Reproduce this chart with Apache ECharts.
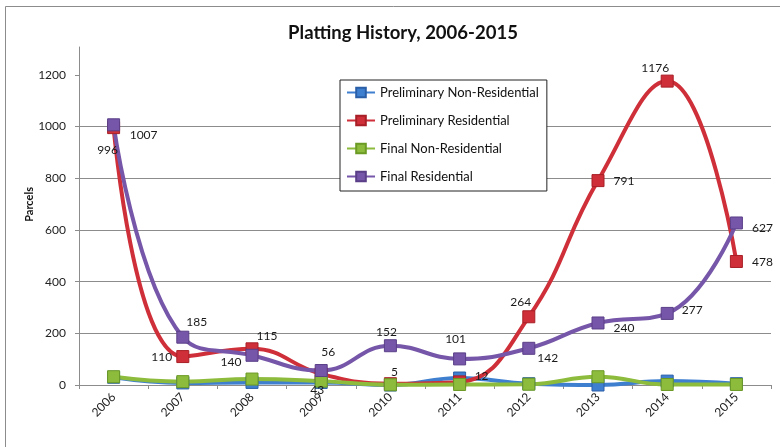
<!DOCTYPE html>
<html>
<head>
<meta charset="utf-8">
<title>Platting History, 2006-2015</title>
<script src="https://cdn.jsdelivr.net/npm/echarts@6/dist/echarts.min.js"></script>
<style>
  html, body { margin: 0; padding: 0; background: #ffffff; }
  #chart { width: 780px; height: 447px; }
</style>
</head>
<body>
<div id="chart"></div>
<script>
// Parcels platted per year, by plat type
const years = ['2006', '2007', '2008', '2009', '2010', '2011', '2012', '2013', '2014', '2015'];
const prelimNonRes = [30, 8, 10, 10, 0, 27, 5, 0, 15, 5];
const prelimRes    = [996, 110, 140, 43, 5, 12, 264, 791, 1176, 478];
const finalNonRes  = [32, 13, 23, 15, 1, 2, 3, 32, 2, 2];
const finalRes     = [1007, 185, 115, 56, 152, 101, 142, 240, 277, 627];
const yTicks = [0, 200, 400, 600, 800, 1000, 1200];

// Where each value label sits relative to its marker (px)
const prelimResLabelOffsets = [[-6, 23], [-21, 1], [-21, 13], [-4, 16], [4, -12], [22, -6], [-8, -15], [26, 1], [-12, -13], [26, 1]];
const finalResLabelOffsets  = [[30, 10], [14, -15], [15, -19], [7, -18], [-4, -14], [-4, -20], [19, 10], [26, 5], [25, -3], [26, 5]];

const FONT = 'Lato, "Open Sans", sans-serif';

function labelled(values, offsets) {
  return values.map((v, i) => ({
    value: v,
    label: { show: true, position: 'inside', offset: offsets[i] }
  }));
}

function lineSeries(name, data, color, border, withLabels) {
  return {
    name: name,
    type: 'line',
    data: data,
    smooth: 0.45,
    symbol: 'rect',
    symbolSize: 12,
    lineStyle: { width: 4, color: color },
    itemStyle: { color: color, borderColor: border, borderWidth: 1 },
    label: withLabels ? {
      show: true,
      color: '#1a1a1a',
      fontFamily: FONT,
      fontSize: 12
    } : { show: false },
    emphasis: { disabled: true },
    animation: false
  };
}

const chart = echarts.init(document.getElementById('chart'), null, { renderer: 'canvas' });

chart.setOption({
  backgroundColor: '#ffffff',
  animation: false,
  title: {
    text: 'Platting History, 2006-2015',
    left: 398,
    top: 19,
    textAlign: 'center',
    textStyle: { fontFamily: FONT, fontSize: 18.5, fontWeight: 'bold', color: '#111' }
  },
  graphic: [
    {
      type: 'rect',
      shape: { x: 5.5, y: 6.5, width: 800, height: 500 },
      style: { fill: 'none', stroke: '#8c8c8c', lineWidth: 1 },
      silent: true
    },
    {
      type: 'text',
      left: 24,
      top: 187,
      rotation: Math.PI / 2,
      style: { text: 'Parcels', fontFamily: FONT, fontSize: 11, fontWeight: 'bold', fill: '#111' },
      silent: true
    }
  ],
  legend: {
    orient: 'vertical',
    left: 340,
    top: 80,
    padding: [6, 8, 8, 6],
    itemGap: 15,
    itemWidth: 28,
    itemHeight: 12,
    borderColor: '#222',
    borderWidth: 1,
    backgroundColor: '#ffffff',
    textStyle: { fontFamily: FONT, fontSize: 13, color: '#111' },
    data: ['Preliminary Non-Residential', 'Preliminary Residential', 'Final Non-Residential', 'Final Residential']
  },
  grid: { left: 79, right: 9, top: 47, bottom: 62, containLabel: false },
  xAxis: {
    type: 'category',
    data: years,
    boundaryGap: true,
    axisLine: { lineStyle: { color: '#8c8c8c', width: 1 } },
    axisTick: { show: true, length: 4, lineStyle: { color: '#8c8c8c' } },
    axisLabel: { rotate: 45, margin: 10, fontFamily: FONT, fontSize: 12, color: '#222' },
    splitLine: { show: false }
  },
  yAxis: {
    type: 'value',
    min: 0,
    max: 1308,
    interval: 200,
    axisLine: { show: true, lineStyle: { color: '#8c8c8c', width: 1 } },
    axisTick: { show: true, length: 4, customValues: yTicks, lineStyle: { color: '#8c8c8c' } },
    axisLabel: {
      customValues: yTicks,
      formatter: (v) => String(v),
      margin: 13,
      fontFamily: FONT,
      fontSize: 12,
      color: '#222'
    },
    splitLine: { show: true, showMaxLine: false, lineStyle: { color: '#8c8c8c', width: 1 } }
  },
  series: [
    lineSeries('Preliminary Non-Residential', prelimNonRes, '#3f7fd0', '#2a5fa8', false),
    lineSeries('Preliminary Residential', labelled(prelimRes, prelimResLabelOffsets), '#cf2f38', '#a81f27', true),
    lineSeries('Final Non-Residential', finalNonRes, '#8dbb3c', '#6b9a25', false),
    lineSeries('Final Residential', labelled(finalRes, finalResLabelOffsets), '#7656a8', '#5a3f88', true)
  ]
});
</script>
</body>
</html>
